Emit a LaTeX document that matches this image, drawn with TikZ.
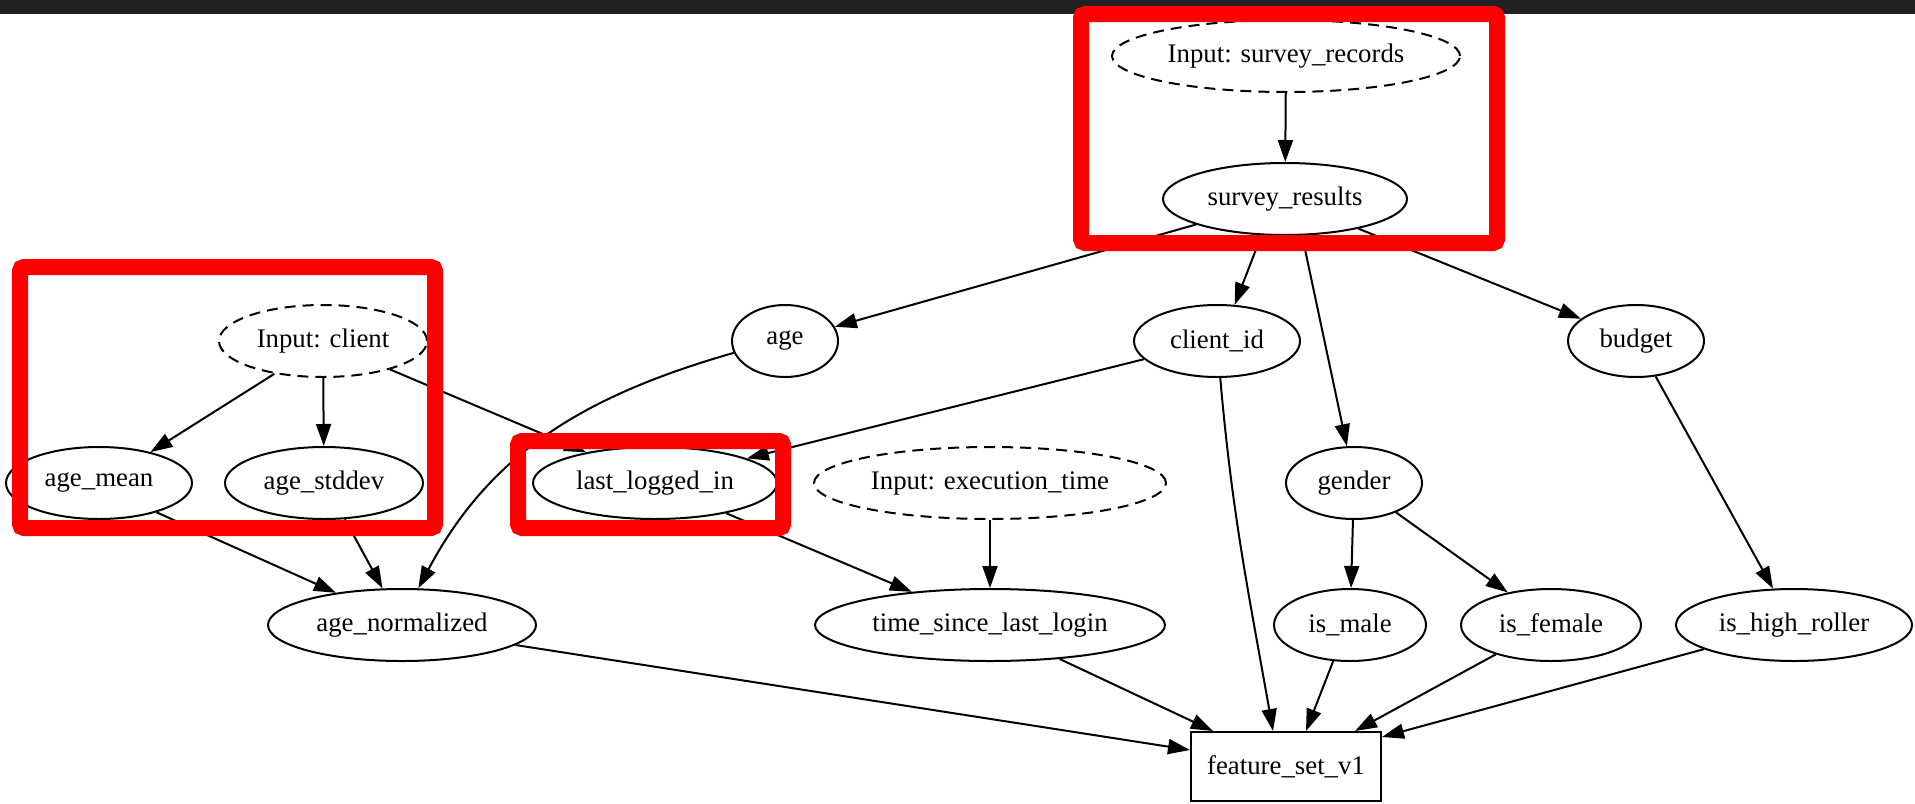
\documentclass[tikz,border=0pt]{standalone}
\usepackage{fontspec}
\setmainfont{Liberation Serif}
\usetikzlibrary{shapes.geometric,arrows.meta,calc}
\definecolor{barcol}{RGB}{33,33,33}
\definecolor{hlred}{RGB}{255,0,0}
\begin{document}
\begin{tikzpicture}[x=0.5pt,y=-0.5pt,
  every node/.style={font=\fontsize{13.4pt}{16pt}\selectfont},
  ell/.style={ellipse, draw, line width=1pt, inner sep=0pt, minimum height=36pt},
  inp/.style={ell, dash pattern=on 5.5pt off 3.5pt},
  fsbox/.style={rectangle, draw, line width=1pt, inner sep=0pt, minimum width=95pt, minimum height=34.5pt},
  conn/.style={line width=1pt, -{Triangle[length=11pt,width=7.5pt]}},
  hl/.style={draw=hlred, line width=8pt, rounded corners=2pt}
]
\useasboundingbox (0,0) rectangle (1915,803);
\fill[barcol] (0,0) rectangle (1915,14);

% nodes
\node[inp, minimum width=174pt] (SR) at (1286,56) {Input: survey\_records};
\node[ell, minimum width=122pt] (SRes) at (1285,199) {survey\_results};
\node[ell, minimum width=53pt] (age) at (785,341) {age};
\node[ell, minimum width=83pt] (cid) at (1217,341) {client\_id};
\node[ell, minimum width=68pt] (budget) at (1636,341) {budget};
\node[inp, minimum width=104pt] (IC) at (323,341) {Input: client};
\node[ell, minimum width=93pt] (amean) at (99,483) {age\_mean};
\node[ell, minimum width=99pt] (astd) at (324,483) {age\_stddev};
\node[ell, minimum width=122pt] (lli) at (655,483) {last\_logged\_in};
\node[inp, minimum width=176pt] (IET) at (990,483) {Input: execution\_time};
\node[ell, minimum width=68pt] (gender) at (1354,483) {gender};
\node[ell, minimum width=134pt] (anorm) at (402,625) {age\_normalized};
\node[ell, minimum width=175pt] (tsll) at (990,625) {time\_since\_last\_login};
\node[ell, minimum width=76pt] (male) at (1350,625) {is\_male};
\node[ell, minimum width=90pt] (female) at (1551,625) {is\_female};
\node[ell, minimum width=118pt] (hr) at (1794,625) {is\_high\_roller};
\node[fsbox] (fs) at (1286,766.5) {feature\_set\_v1};

% connectors
\draw[conn] (SR) -- (SRes);
\draw[conn] (SRes.196) -- (age.16);
\draw[conn] (SRes.237) -- (cid.64);
\draw[conn] (SRes.295) -- (gender.101);
\draw[conn] (SRes.338) -- (budget.158);
\draw[conn] (IC.214) -- (amean.31);
\draw[conn] (IC) -- (astd);
\draw[conn] (IC.337) -- (lli.156);
\draw[conn] (age.193) to[out=196,in=62] (anorm.66);
\draw[conn] (cid.194) -- (lli.15);
\draw[conn] (amean.333) -- (anorm.154);
\draw[conn] (astd.300) -- (anorm.118);
\draw[conn] (lli.337) -- (tsll.157);
\draw[conn] (IET) -- (tsll);
\draw[conn] (cid.275) to[out=275,in=100] ([xshift=-6.5pt]fs.north);
\draw[conn] (gender) -- (male);
\draw[conn] (gender.325) -- (female.143);
\draw[conn] (budget.299) -- (hr.120);
\draw[conn] (anorm.350) -- ([yshift=8.25pt]fs.west);
\draw[conn] (tsll.334) -- ([xshift=-36.5pt]fs.north);
\draw[conn] (male.245) -- ([xshift=10pt]fs.north);
\draw[conn] (female.208) -- ([xshift=34.5pt]fs.north);
\draw[conn] (hr.195) -- ([yshift=-3pt]fs.north east);

% highlight boxes
\draw[hl] (1081,14) rectangle (1497,243);
\draw[hl] (20,267) rectangle (435,528);
\draw[hl] (518,441) rectangle (783,528);
\end{tikzpicture}
\end{document}
